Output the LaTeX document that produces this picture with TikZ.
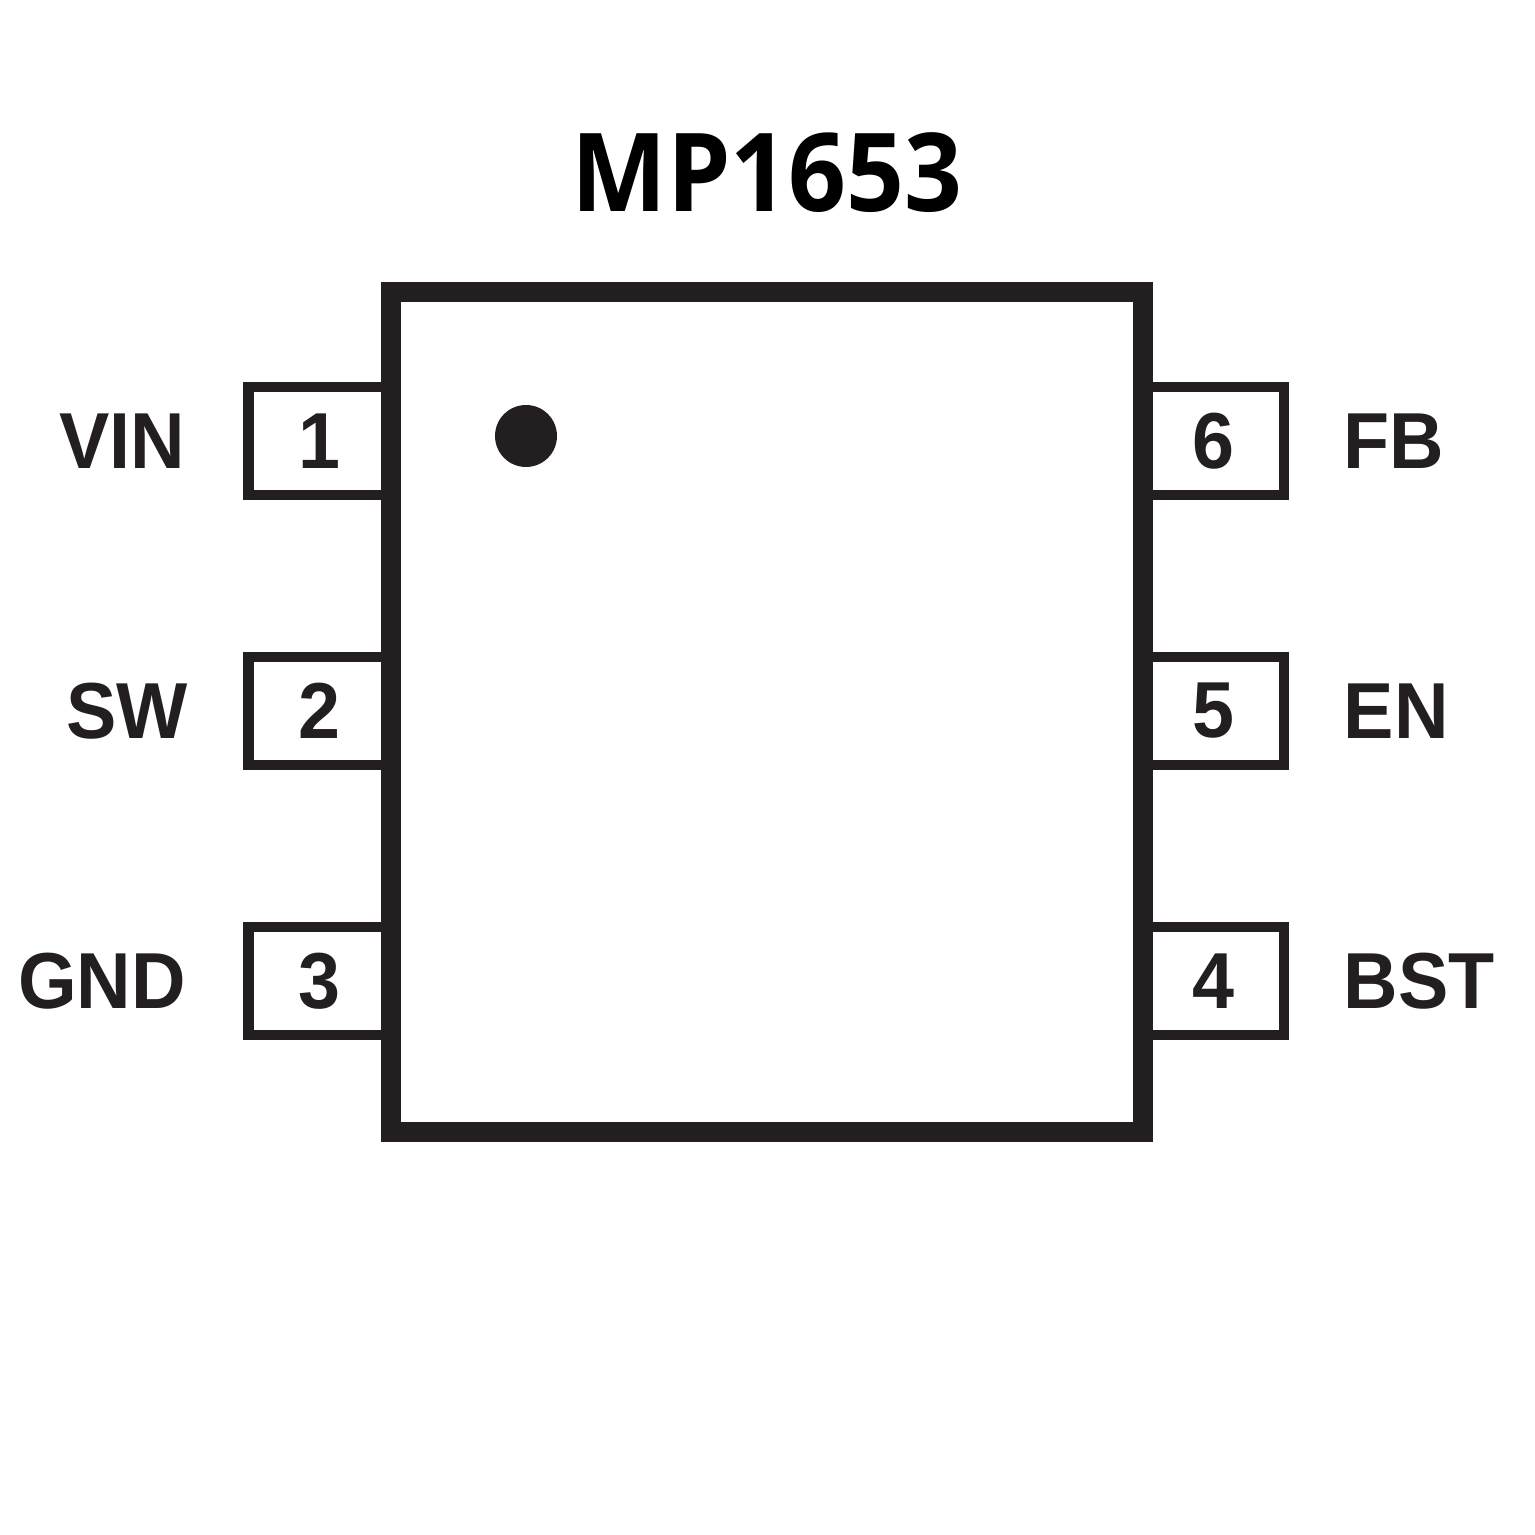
\documentclass[tikz,border=0pt]{standalone}
\usepackage{fontspec}
\setmainfont{Liberation Sans}[FakeStretch=0.95]
\newfontfamily\titlefont{Open Sans}[FakeStretch=0.93]
\usepackage{xcolor}
\usetikzlibrary{positioning}
\definecolor{icdark}{HTML}{231F20}

\begin{document}
\begin{tikzpicture}[icdark, pin/.style={draw, line width=2.85pt, minimum width=1.42cm, minimum height=1.08cm, inner sep=0pt, font=\fontsize{22.6}{27}\selectfont\bfseries}, pinlabel/.style={inner sep=0pt, font=\fontsize{22.6}{27}\selectfont\bfseries}]
	\useasboundingbox (0,0) rectangle (15.35,15.35);

	\node (chip) at (7.67, 8.23) [draw, line width=5.69pt, minimum width=7.52cm, minimum height=8.4cm] {};
	\fill (5.26, 10.99) circle (0.31cm);

	\node (title) at (7.67, 13.62) [black, font=\titlefont\fontsize{31}{37}\selectfont\bfseries] {MP1653};

	\node (p1) at (3.195, 10.94) [pin] {1};
	\node (p2) at (3.195, 8.24) [pin] {2};
	\node (p3) at (3.195, 5.54) [pin] {3};
	\node (p6) at (12.13, 10.94) [pin] {6};
	\node (p5) at (12.13, 8.24) [pin] {5};
	\node (p4) at (12.13, 5.54) [pin] {4};

	\node (vin) [pinlabel, left=0.58cm of p1] {VIN};
	\node (sw) [pinlabel, left=0.55cm of p2] {SW};
	\node (gnd) [pinlabel, left=0.57cm of p3] {GND};
	\node (fb) [pinlabel, right=0.54cm of p6] {FB};
	\node (en) [pinlabel, right=0.54cm of p5] {EN};
	\node (bst) [pinlabel, right=0.54cm of p4] {BST};
\end{tikzpicture}
\end{document}
